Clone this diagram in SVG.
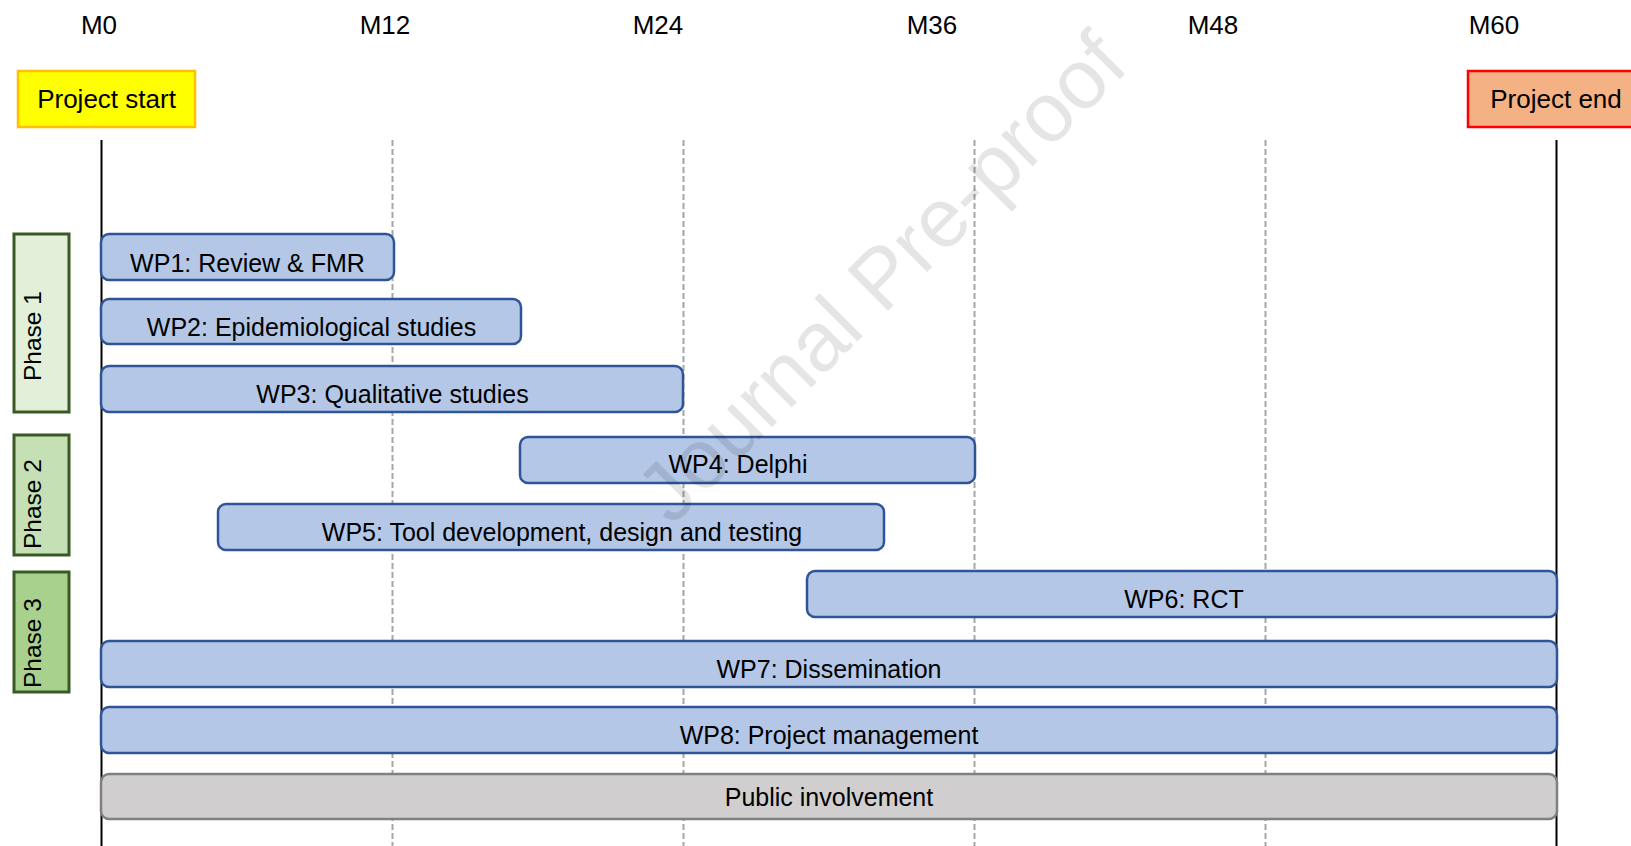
<svg xmlns="http://www.w3.org/2000/svg" width="1631" height="846" viewBox="0 0 1631 846">
  <style>
    text { font-family: "Liberation Sans", Arial, sans-serif; fill: #000; }
    .axis { font-size: 26px; text-anchor: middle; }
    .lbl { font-size: 25px; text-anchor: middle; }
    .phase-t { font-size: 24.5px; }
    .bar { fill: #B4C7E7; stroke: #2F5597; stroke-width: 2.5; }
    .pub { fill: #D0CECE; stroke: #808080; stroke-width: 2.5; }
    .grid { stroke: #A6A6A6; stroke-width: 2; stroke-dasharray: 6 3; fill: none; }
    .solid { stroke: #000; stroke-width: 2; fill: none; }
    .phase { stroke: #3A5A25; stroke-width: 3; }
    .wm { font-size: 84px; fill: #000; fill-opacity: 0.1; }
  </style>
  <rect x="0" y="0" width="1631" height="846" fill="#FFFFFF"/>

  <g id="axis-labels">
    <text class="axis" x="99" y="34">M0</text>
    <text class="axis" x="385" y="34">M12</text>
    <text class="axis" x="658" y="34">M24</text>
    <text class="axis" x="932" y="34">M36</text>
    <text class="axis" x="1213" y="34">M48</text>
    <text class="axis" x="1494" y="34">M60</text>
  </g>

  <g id="connectors">
    <line class="grid" x1="392.5" y1="140" x2="392.5" y2="846"/>
    <line class="grid" x1="683.5" y1="140" x2="683.5" y2="846"/>
    <line class="grid" x1="974.5" y1="140" x2="974.5" y2="846"/>
    <line class="grid" x1="1265.5" y1="140" x2="1265.5" y2="846"/>
    <line class="solid" x1="101.5" y1="140" x2="101.5" y2="846"/>
    <line class="solid" x1="1556.5" y1="140" x2="1556.5" y2="846"/>
  </g>

  <g id="project-start">
    <rect x="18" y="71" width="177" height="56" fill="#FFFF00" stroke="#FFC000" stroke-width="2.5"/>
    <text class="axis" x="106.5" y="108">Project start</text>
  </g>
  <g id="project-end">
    <rect x="1468" y="71" width="180" height="56" fill="#F4B183" stroke="#FF0000" stroke-width="2.5"/>
    <text class="axis" x="1556" y="108">Project end</text>
  </g>

  <g id="phase-1">
    <rect class="phase" x="14" y="234" width="55" height="178" fill="#E2F0D9"/>
    <text class="phase-t" transform="translate(40.5,381) rotate(-90)">Phase 1</text>
  </g>
  <g id="phase-2">
    <rect class="phase" x="14" y="435" width="55" height="120" fill="#C5E0B4"/>
    <text class="phase-t" transform="translate(40.5,549) rotate(-90)">Phase 2</text>
  </g>
  <g id="phase-3">
    <rect class="phase" x="14" y="572" width="55" height="120" fill="#A9D18E"/>
    <text class="phase-t" transform="translate(40.5,688) rotate(-90)">Phase 3</text>
  </g>

  <g id="wp1">
    <rect class="bar" x="101" y="234" width="293" height="46" rx="8"/>
    <text class="lbl" x="247.5" y="271.5">WP1: Review &amp; FMR</text>
  </g>
  <g id="wp2">
    <rect class="bar" x="101" y="299" width="420" height="45" rx="8"/>
    <text class="lbl" x="311.5" y="335.5">WP2: Epidemiological studies</text>
  </g>
  <g id="wp3">
    <rect class="bar" x="101" y="366" width="582" height="46" rx="8"/>
    <text class="lbl" x="392.5" y="402.5">WP3: Qualitative studies</text>
  </g>
  <g id="wp4">
    <rect class="bar" x="520" y="437" width="455" height="46" rx="8"/>
    <text class="lbl" x="738" y="473">WP4: Delphi</text>
  </g>
  <g id="wp5">
    <rect class="bar" x="218" y="504" width="666" height="46" rx="8"/>
    <text class="lbl" x="562" y="541">WP5: Tool development, design and testing</text>
  </g>
  <g id="wp6">
    <rect class="bar" x="807" y="571" width="750" height="46" rx="8"/>
    <text class="lbl" x="1184" y="608">WP6: RCT</text>
  </g>
  <g id="wp7">
    <rect class="bar" x="101" y="641" width="1456" height="46" rx="8"/>
    <text class="lbl" x="829" y="678">WP7: Dissemination</text>
  </g>
  <g id="wp8">
    <rect class="bar" x="101" y="707" width="1456" height="46" rx="8"/>
    <text class="lbl" x="829" y="743.5">WP8: Project management</text>
  </g>
  <g id="public-involvement">
    <rect class="pub" x="101" y="774" width="1456" height="45" rx="8"/>
    <text class="lbl" x="829" y="806">Public involvement</text>
  </g>

  <g id="watermark">
    <text class="wm" transform="translate(672,527) rotate(-45)">Journal Pre-proof</text>
  </g>
</svg>
